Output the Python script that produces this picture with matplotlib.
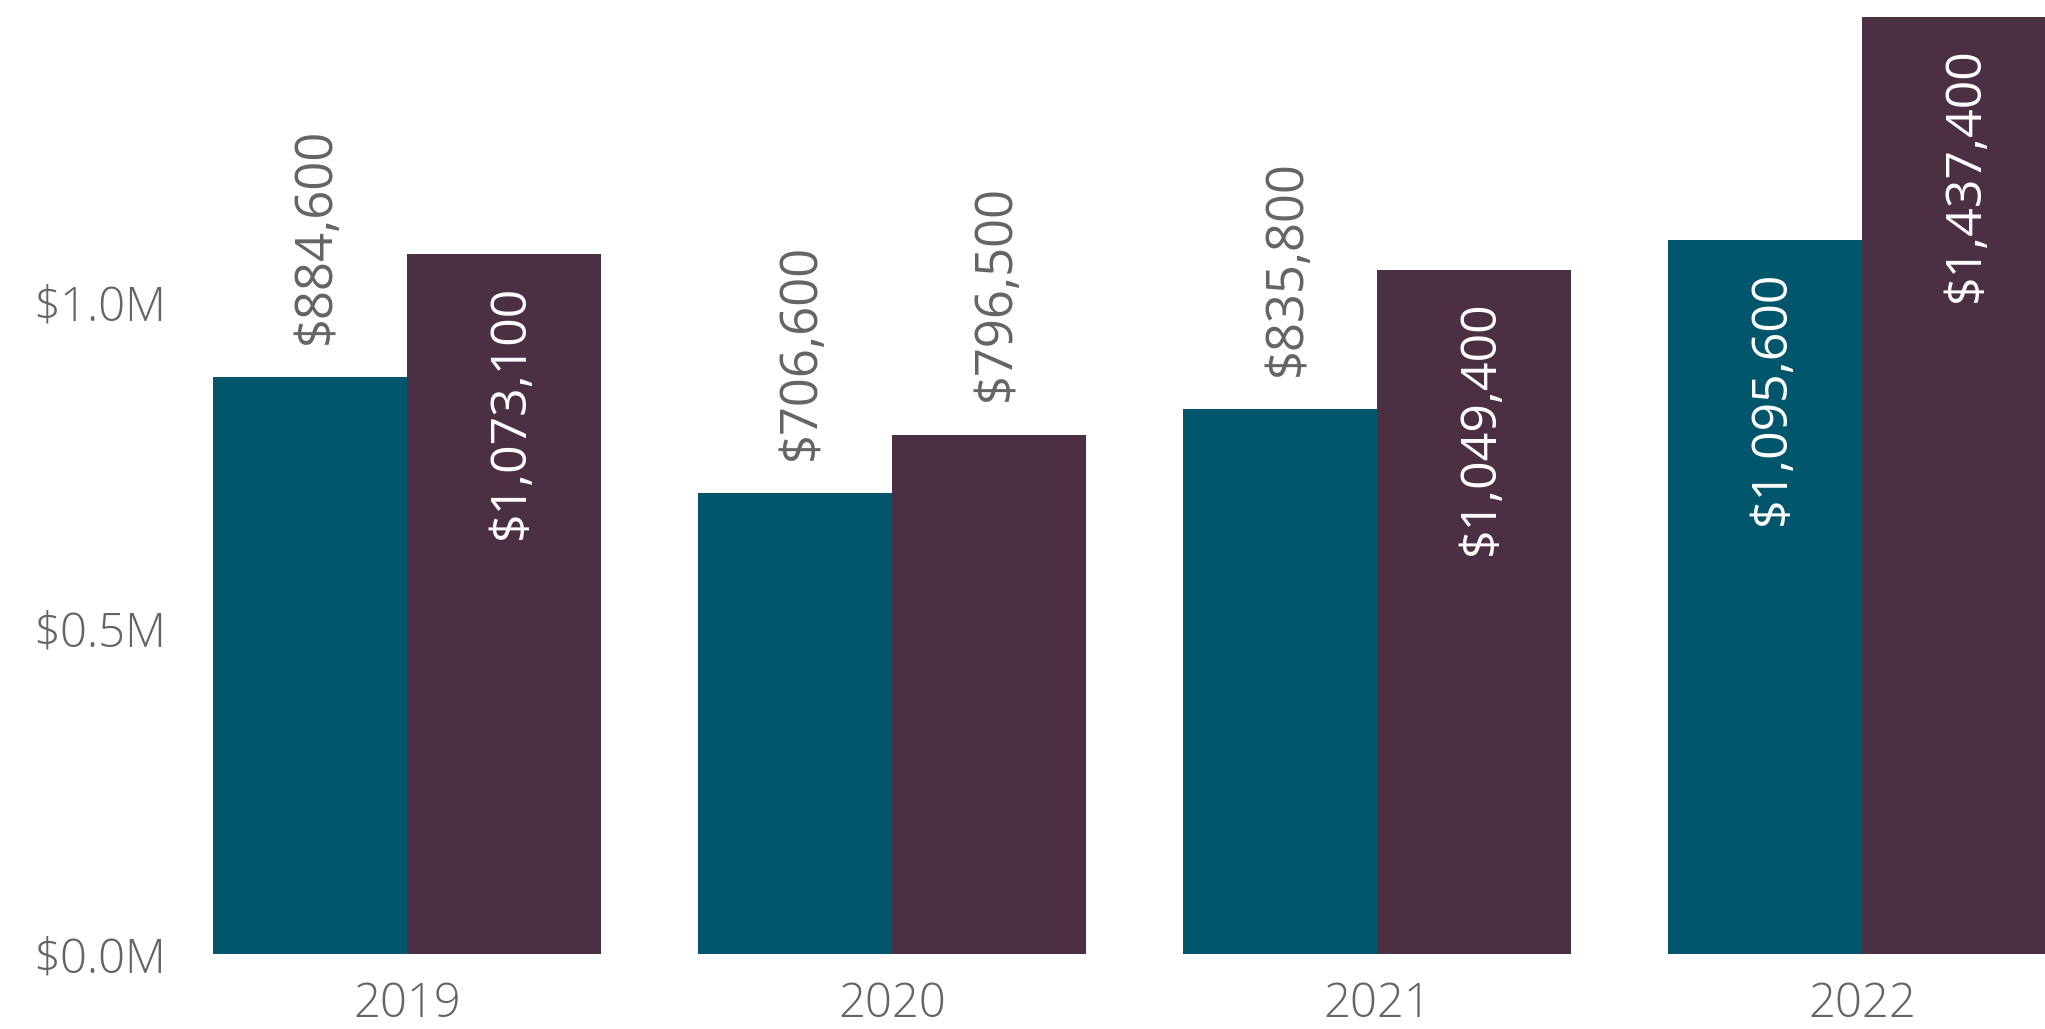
import numpy as np
import matplotlib
matplotlib.use("Agg")
import matplotlib.pyplot as plt
from matplotlib.ticker import FuncFormatter

# chart values
years = ['2019', '2020', '2021', '2022']
series_a = [884600, 706600, 835800, 1095600]   # teal
series_b = [1073100, 796500, 1049400, 1437400]  # maroon
# where the data label sits: 'out' = above the bar, 'in' = inside top
pos_a = ['out', 'out', 'out', 'in']
pos_b = ['in', 'out', 'in', 'in']
yticks = [0, 500000, 1000000]

teal = '#02566C'
maroon = '#4A3042'
grey = '#646464'

plt.rcParams['font.family'] = ['Open Sans', 'DejaVu Sans']

fig = plt.figure(figsize=(20.45, 10.29), dpi=100)
ax = fig.add_axes([190 / 2045, 75 / 1029, 1 - 190 / 2045, 954 / 1029])

x = np.arange(len(years))
w = 0.4
bars_a = ax.bar(x - w / 2, series_a, w, color=teal)
bars_b = ax.bar(x + w / 2, series_b, w, color=maroon)

ax.set_xlim(-0.447, 3.377)
ax.set_ylim(0, 1.463e6)

def add_labels(bars, vals, where):
    for b, v, p in zip(bars, vals, where):
        cx = b.get_x() + b.get_width() / 2
        txt = '${:,.0f}'.format(v)
        if p == 'out':
            ax.annotate(txt, (cx, v), xytext=(5, 24), textcoords='offset points',
                        rotation=90, ha='center', va='bottom', fontsize=36.5,
                        color=grey)
        else:
            ax.annotate(txt, (cx, v), xytext=(5, -22), textcoords='offset points',
                        rotation=90, ha='center', va='top', fontsize=36,
                        color='white')

add_labels(bars_a, series_a, pos_a)
add_labels(bars_b, series_b, pos_b)

ax.set_xticks(x)
ax.set_xticklabels(years)
ax.set_yticks(yticks)
ax.yaxis.set_major_formatter(FuncFormatter(lambda v, p: '${:.1f}M'.format(v / 1e6)))
for lab in ax.get_xticklabels() + ax.get_yticklabels():
    lab.set_fontweight('light')
    lab.set_fontsize(34)
    lab.set_color(grey)
ax.tick_params(axis='both', length=0)
ax.tick_params(axis='x', pad=19)
ax.tick_params(axis='y', pad=17)
for s in ax.spines.values():
    s.set_visible(False)

fig.savefig('out.png', dpi=100)
